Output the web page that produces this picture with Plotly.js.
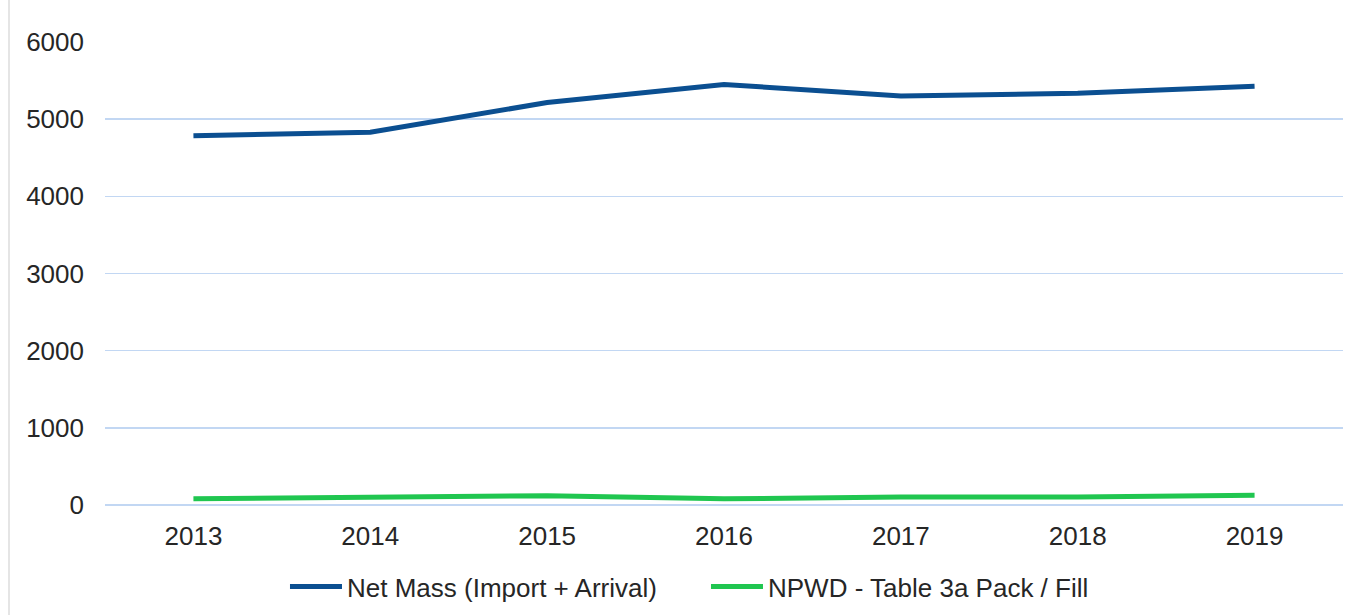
<!DOCTYPE html>
<html>
<head>
<meta charset="utf-8">
<script src="https://cdn.plot.ly/plotly-3.0.1.min.js"></script>
<style>
html,body{margin:0;padding:0;background:#fff;}
#chart{width:1359px;height:615px;}
</style>
</head>
<body>
<div id="chart"></div>
<script>
var years = ['2013','2014','2015','2016','2017','2018','2019'];
var netMass = [4785, 4830, 5215, 5450, 5300, 5335, 5425];
var npwd = [80, 100, 120, 80, 105, 105, 125];
var seriesNames = ['Net Mass (Import + Arrival)', 'NPWD - Table 3a Pack / Fill'];
var yTicks = [0, 1000, 2000, 3000, 4000, 5000, 6000];

var font = 'Liberation Sans, Arial, Helvetica, sans-serif';
var traces = [
  {x: years, y: netMass, name: seriesNames[0], type: 'scatter', mode: 'lines',
   line: {color: '#0b4f91', width: 5}},
  {x: years, y: npwd, name: seriesNames[1], type: 'scatter', mode: 'lines',
   line: {color: '#20c650', width: 5}}
];
var layout = {
  width: 1359, height: 615,
  margin: {l: 105, r: 16, t: 42, b: 110},
  paper_bgcolor: '#ffffff', plot_bgcolor: '#ffffff',
  font: {family: font, size: 26, color: '#262626'},
  showlegend: true,
  legend: {orientation: 'h', xref: 'container', yref: 'container',
           x: 0.2097, xanchor: 'left', y: 0.046, yanchor: 'middle',
           font: {family: font, size: 26, color: '#262626'},
           itemwidth: 52, entrywidth: 354, entrywidthmode: 'pixels', bgcolor: 'rgba(0,0,0,0)'},
  xaxis: {type: 'category', range: [-0.5, 6.5], showgrid: false, showline: false, zeroline: false,
          ticks: '', tickfont: {family: font, size: 26, color: '#262626'},
          ticklabelstandoff: 13, fixedrange: true},
  yaxis: {range: [0, 6000], tickvals: yTicks, showgrid: true, gridcolor: '#c2d7f3', gridwidth: 1.5,
          zeroline: true, zerolinecolor: '#c2d7f3', zerolinewidth: 1.5, showline: false, ticks: '',
          tickfont: {family: font, size: 26, color: '#262626'}, ticklabelstandoff: 20, fixedrange: true},
  shapes: [{type: 'line', xref: 'paper', yref: 'paper', xsizemode: 'pixel', xanchor: 0,
            x0: -96, x1: -96, y0: -0.3, y1: 1.1, line: {color: '#dcdcdc', width: 1.5}}]
};
Plotly.newPlot('chart', traces, layout, {displayModeBar: false, staticPlot: true});
</script>
</body>
</html>
